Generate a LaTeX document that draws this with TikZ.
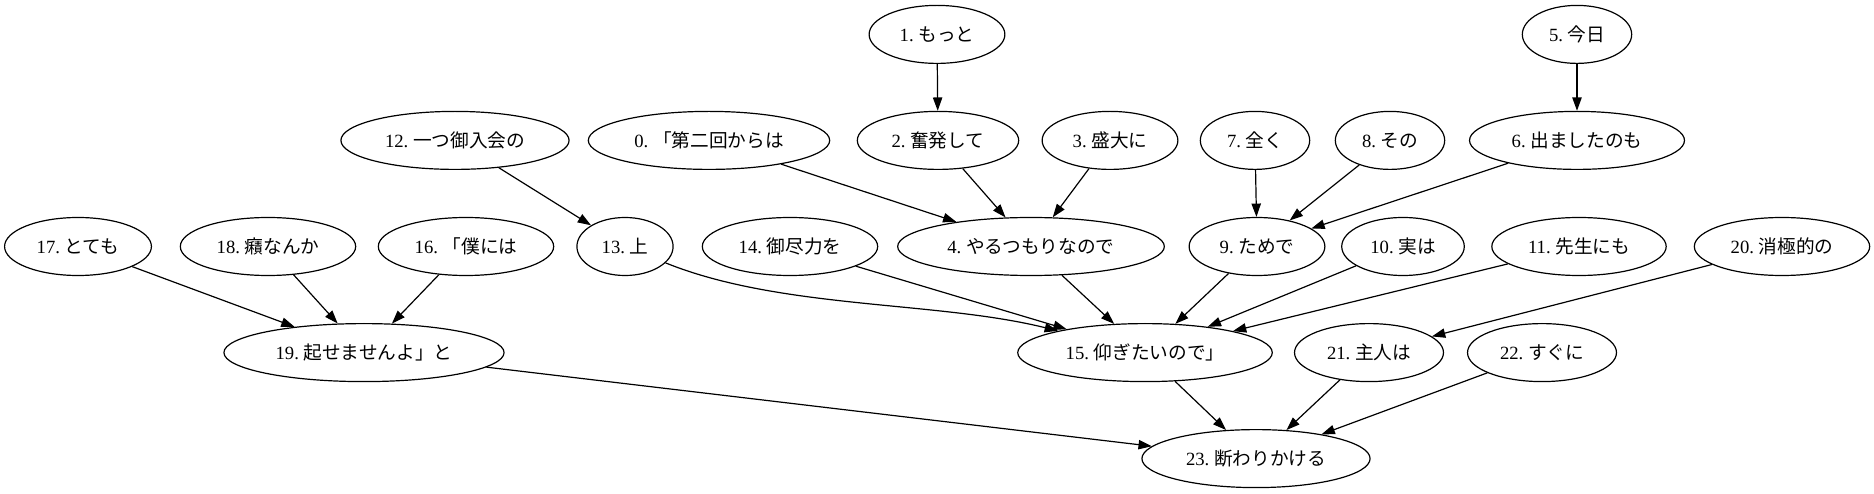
\documentclass[tikz,border=0pt]{standalone}
\usepackage{fontspec}
\setmainfont{Liberation Serif}
\newfontfamily\cjk{Noto Sans CJK JP}
\usetikzlibrary{shapes.geometric,arrows.meta}
\tikzset{
  gnode/.style={draw, ellipse, line width=0.9pt, inner xsep=8pt, inner ysep=0pt,
    minimum height=43.5pt, text height=10pt, text depth=0pt,
    font=\fontsize{14pt}{17pt}\selectfont},
  gedge/.style={draw, line width=0.9pt, -{Triangle[length=10pt,width=7pt]}}
}
\newcommand{\lb}[2]{#1.~{\cjk #2}}
\begin{document}
\begin{tikzpicture}[x=0.75pt,y=0.75pt]
\useasboundingbox (0,0) rectangle (1874,493);
% row 1
\node[gnode] (n1) at (937,458.6) {\lb{1}{もっと}};
\node[gnode] (n5) at (1577,458.6) {\lb{5}{今日}};
% row 2
\node[gnode] (n12) at (455,352.6) {\lb{12}{一つ御入会の}};
\node[gnode] (n0) at (709,352.6) {\lb{0}{「第二回からは}};
\node[gnode] (n2) at (938,352.6) {\lb{2}{奮発して}};
\node[gnode] (n3) at (1110,352.6) {\lb{3}{盛大に}};
\node[gnode] (n7) at (1255,352.6) {\lb{7}{全く}};
\node[gnode] (n8) at (1390,352.6) {\lb{8}{その}};
\node[gnode] (n6) at (1577,352.6) {\lb{6}{出ましたのも}};
% row 3
\node[gnode] (n17) at (78,246.5) {\lb{17}{とても}};
\node[gnode] (n18) at (268,246.5) {\lb{18}{癪なんか}};
\node[gnode] (n16) at (466,246.5) {\lb{16}{「僕には}};
\node[gnode] (n13) at (625,246.5) {\lb{13}{上}};
\node[gnode] (n14) at (790,246.5) {\lb{14}{御尽力を}};
\node[gnode] (n4) at (1031,246.5) {\lb{4}{やるつもりなので}};
\node[gnode] (n9) at (1257,246.5) {\lb{9}{ためで}};
\node[gnode] (n10) at (1403,246.5) {\lb{10}{実は}};
\node[gnode] (n11) at (1579,246.5) {\lb{11}{先生にも}};
\node[gnode] (n20) at (1782,246.5) {\lb{20}{消極的の}};
% row 4
\node[gnode] (n19) at (364,140.4) {\lb{19}{起せませんよ」と}};
\node[gnode] (n15) at (1145,140.4) {\lb{15}{仰ぎたいので」}};
\node[gnode] (n21) at (1369,140.4) {\lb{21}{主人は}};
\node[gnode] (n22) at (1542,140.4) {\lb{22}{すぐに}};
% row 5
\node[gnode] (n23) at (1256,34.4) {\lb{23}{断わりかける}};
% edges
\path[gedge] (n1) -- (n2);
\path[gedge] (n0) -- (n4);
\path[gedge] (n2) -- (n4);
\path[gedge] (n3) -- (n4);
\path[gedge] (n5) -- (n6);
\path[gedge] (n7) -- (n9);
\path[gedge] (n8) -- (n9);
\path[gedge] (n6) -- (n9);
\path[gedge] (n12) -- (n13);
\path[gedge] (n17) -- (n19);
\path[gedge] (n18) -- (n19);
\path[gedge] (n16) -- (n19);
\path[gedge] (n13) to[out=-22, in=166, looseness=0.8] (n15);
\path[gedge] (n14) -- (n15);
\path[gedge] (n4) -- (n15);
\path[gedge] (n9) -- (n15);
\path[gedge] (n10) -- (n15);
\path[gedge] (n11) -- (n15);
\path[gedge] (n20) -- (n21);
\path[gedge] (n19) -- (n23);
\path[gedge] (n15) -- (n23);
\path[gedge] (n21) -- (n23);
\path[gedge] (n22) -- (n23);
\end{tikzpicture}
\end{document}
